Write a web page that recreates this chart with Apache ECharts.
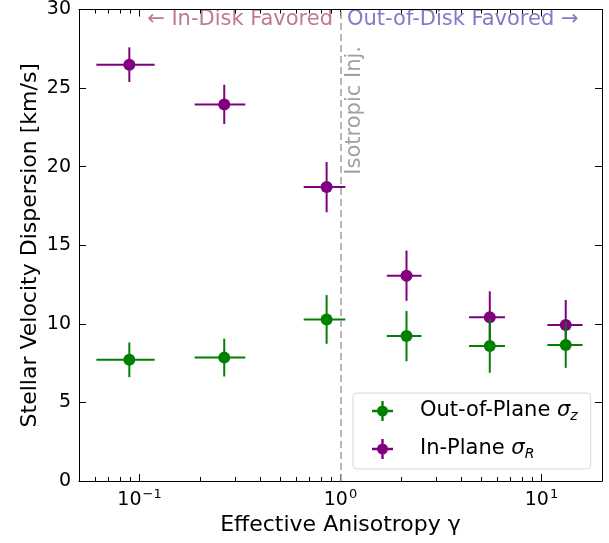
<!DOCTYPE html>
<html>
<head>
<meta charset="utf-8">
<script src="https://cdn.jsdelivr.net/npm/echarts@6/dist/echarts.min.js"></script>
<style>
  html, body { margin: 0; padding: 0; background: #fff; }
  #chart { width: 609px; height: 543px; }
</style>
</head>
<body>
<div id="chart"></div>
<script>
// effective anisotropy bins (centre and bin edges)
const gamma = [0.089, 0.264, 0.853, 2.13, 5.53, 13.2];
const gammaLo = [0.061, 0.188, 0.656, 1.70, 4.36, 10.7];
const gammaHi = [0.119, 0.336, 1.057, 2.53, 6.58, 16.0];

// dispersions [km/s] with symmetric errors
const sigmaZ = [7.71, 7.85, 10.28, 9.22, 8.59, 8.65];
const sigmaZErr = [1.1, 1.2, 1.55, 1.6, 1.7, 1.45];
const sigmaR = [26.49, 23.96, 18.7, 13.06, 10.42, 9.92];
const sigmaRErr = [1.1, 1.25, 1.6, 1.6, 1.65, 1.6];

const yTicks = [0, 5, 10, 15, 20, 25, 30];
const xMajor = [0.1, 1, 10];
const xMinor = [0.06, 0.07, 0.08, 0.09, 0.2, 0.3, 0.4, 0.5, 0.6, 0.7, 0.8, 0.9,
                2, 3, 4, 5, 6, 7, 8, 9, 20];

const FONT = 'DejaVu Sans';
const GREEN = '#008000';
const PURPLE = '#800080';

function errData(y, err) {
  return gamma.map((g, i) => [g, y[i], gammaLo[i], gammaHi[i], y[i] - err[i], y[i] + err[i]]);
}

function renderErr(color) {
  return function (params, api) {
    const c = api.coord([api.value(0), api.value(1)]);
    const xl = api.coord([api.value(2), api.value(1)]);
    const xh = api.coord([api.value(3), api.value(1)]);
    const yl = api.coord([api.value(0), api.value(4)]);
    const yh = api.coord([api.value(0), api.value(5)]);
    const ls = { stroke: color, lineWidth: 2 };
    return {
      type: 'group',
      children: [
        { type: 'line', shape: { x1: xl[0], y1: xl[1], x2: xh[0], y2: xh[1] }, style: ls },
        { type: 'line', shape: { x1: yl[0], y1: yl[1], x2: yh[0], y2: yh[1] }, style: ls },
        { type: 'circle', shape: { cx: c[0], cy: c[1], r: 6 }, style: { fill: color } }
      ]
    };
  };
}

const legendIcon = 'path://M0,8.8H21V11.2H0Z M9.3,0H11.7V20H9.3Z M10.5,4.5A5.5,5.5,0,1,1,10.5,15.5A5.5,5.5,0,1,1,10.5,4.5Z';

function expLabel(v) {
  const e = Math.round(Math.log10(v));
  return '{b|10}{s|' + (e < 0 ? '\u2212' + (-e) : e) + '}';
}

const chart = echarts.init(document.getElementById('chart'));

const tickBase = { inside: true, lineStyle: { color: '#000', width: 1 } };

const option = {
  backgroundColor: '#fff',
  animation: false,
  grid: { left: 79, right: 7, top: 6, bottom: 62 },
  xAxis: [
    {
      type: 'log', logBase: 10, min: 0.05, max: 20,
      name: 'Effective Anisotropy \u03b3',
      nameLocation: 'middle', nameGap: 32,
      nameTextStyle: { fontFamily: FONT, fontSize: 22, color: '#000' },
      axisLine: { lineStyle: { color: '#000', width: 1 } },
      axisTick: Object.assign({ length: 7, customValues: xMajor }, tickBase),
      axisLabel: {
        customValues: xMajor,
        margin: 7,
        formatter: expLabel,
        rich: {
          b: { fontFamily: FONT, fontSize: 19, color: '#000' },
          s: { fontFamily: FONT, fontSize: 13, color: '#000', padding: [0, 0, 11, 1] }
        }
      },
      splitLine: { show: false }
    },
    {
      type: 'log', logBase: 10, min: 0.05, max: 20, position: 'bottom',
      axisLine: { show: false },
      axisTick: Object.assign({ length: 4, customValues: xMinor }, tickBase),
      axisLabel: { show: false },
      splitLine: { show: false }
    },
    {
      type: 'log', logBase: 10, min: 0.05, max: 20, position: 'top',
      axisLine: { onZero: false, lineStyle: { color: '#000', width: 1 } },
      axisTick: Object.assign({ length: 7, customValues: xMajor }, tickBase),
      axisLabel: { show: false },
      splitLine: { show: false }
    },
    {
      type: 'log', logBase: 10, min: 0.05, max: 20, position: 'top',
      axisLine: { show: false },
      axisTick: Object.assign({ length: 4, customValues: xMinor }, tickBase),
      axisLabel: { show: false },
      splitLine: { show: false }
    }
  ],
  yAxis: [
    {
      type: 'value', min: 0, max: 30, interval: 5,
      name: 'Stellar Velocity Dispersion [km/s]',
      nameLocation: 'middle', nameGap: 38, nameMoveOverlap: false,
      nameTextStyle: { fontFamily: FONT, fontSize: 22, color: '#000' },
      axisLine: { show: true, lineStyle: { color: '#000', width: 1 } },
      axisTick: Object.assign({ length: 7, customValues: yTicks }, tickBase),
      axisLabel: { customValues: yTicks, margin: 8, fontFamily: FONT, fontSize: 19, color: '#000' },
      splitLine: { show: false }
    },
    {
      type: 'value', min: 0, max: 30, interval: 5, position: 'right',
      axisLine: { show: true, lineStyle: { color: '#000', width: 1 } },
      axisTick: Object.assign({ length: 7 }, tickBase),
      axisLabel: { show: false },
      splitLine: { show: false }
    }
  ],
  legend: {
    left: 353, top: 393,
    orient: 'vertical',
    padding: [6, 13, 8, 19],
    itemGap: 14,
    itemWidth: 21, itemHeight: 20,
    borderColor: '#d8d8d8', borderWidth: 1, borderRadius: 4,
    backgroundColor: 'rgba(255,255,255,0.8)',
    data: [
      { name: 'Out-of-Plane', icon: legendIcon, itemStyle: { color: GREEN } },
      { name: 'In-Plane', icon: legendIcon, itemStyle: { color: PURPLE } }
    ],
    formatter: function (name) {
      return name === 'In-Plane' ? name + ' {i|\u03c3}{sub|R}' : name + ' {i|\u03c3}{sub|z}';
    },
    textStyle: {
      fontFamily: FONT, fontSize: 21, color: '#000', lineHeight: 24,
      padding: [0, 0, 0, 22],
      rich: {
        i: { fontFamily: FONT, fontSize: 21, fontStyle: 'italic', color: '#000', lineHeight: 24 },
        sub: { fontFamily: FONT, fontSize: 14, fontStyle: 'italic', color: '#000', padding: [10, 0, 0, 0], lineHeight: 24 }
      }
    }
  },
  graphic: [
    {
      type: 'text', x: 333, y: 20,
      style: {
        text: '\u2190 In-Disk Favored', fill: '#c07898',
        font: '21px "DejaVu Sans"', textAlign: 'right', textVerticalAlign: 'middle'
      }
    },
    {
      type: 'text', x: 347, y: 20,
      style: {
        text: 'Out-of-Disk Favored \u2192', fill: '#8a76c6',
        font: '21px "DejaVu Sans"', textAlign: 'left', textVerticalAlign: 'middle'
      }
    },
    {
      type: 'text', x: 344, y: 46, rotation: Math.PI / 2,
      style: {
        text: 'Isotropic Inj.', fill: '#a0a0a0',
        font: '21px "DejaVu Sans"', textAlign: 'right', textVerticalAlign: 'top'
      }
    }
  ],
  series: [
    {
      name: 'In-Plane',
      type: 'custom',
      xAxisIndex: 0, yAxisIndex: 0,
      renderItem: renderErr(PURPLE),
      itemStyle: { color: PURPLE },
      encode: { x: [0, 2, 3], y: [1, 4, 5] },
      data: errData(sigmaR, sigmaRErr),
      z: 3,
      markLine: {
        silent: true, symbol: 'none',
        label: { show: false },
        lineStyle: { color: '#a0a0a0', type: [7, 4], width: 1.5 },
        data: [{ xAxis: 1 }]
      }
    },
    {
      name: 'Out-of-Plane',
      type: 'custom',
      xAxisIndex: 0, yAxisIndex: 0,
      renderItem: renderErr(GREEN),
      itemStyle: { color: GREEN },
      encode: { x: [0, 2, 3], y: [1, 4, 5] },
      data: errData(sigmaZ, sigmaZErr),
      z: 4
    }
  ]
};

chart.setOption(option);
</script>
</body>
</html>
